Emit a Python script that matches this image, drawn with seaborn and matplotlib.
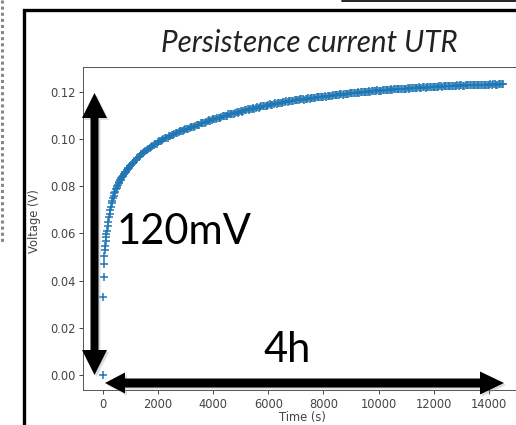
import matplotlib
matplotlib.use("Agg")
import matplotlib.pyplot as plt
import seaborn as sns
import pandas as pd
from matplotlib.patches import Polygon, Rectangle
from matplotlib.lines import Line2D

# Charging curve: first minutes sampled finely, then every 50 s
early_time = [0, 15, 30, 45, 60, 75, 90, 105, 120, 135] + list(range(150, 1000, 25))
early_voltage = [0.0000, 0.0332, 0.0417, 0.0469, 0.0506, 0.0530, 0.0549, 0.0566,
                 0.0584, 0.0599,
                 0.0612, 0.0633, 0.0649, 0.0669, 0.0684, 0.0701, 0.0712, 0.0728,
                 0.0738, 0.0752, 0.0760, 0.0772, 0.0778, 0.0789, 0.0795, 0.0803,
                 0.0807, 0.0815, 0.0818, 0.0825, 0.0827, 0.0835, 0.0838, 0.0843,
                 0.0845, 0.0853, 0.0856, 0.0861, 0.0862, 0.0869, 0.0872, 0.0877,
                 0.0878, 0.0885]

late_time = list(range(1000, 14600, 100))
late_voltage = [
    0.0888, 0.0899, 0.0913, 0.0923, 0.0936, 0.0944, 0.0955, 0.0962, 0.0972, 0.0978,
    0.0987, 0.0992, 0.1000, 0.1004, 0.1012, 0.1016, 0.1023, 0.1026, 0.1033, 0.1036,
    0.1042, 0.1044, 0.1051, 0.1053, 0.1060, 0.1062, 0.1069, 0.1070, 0.1077, 0.1078,
    0.1085, 0.1086, 0.1092, 0.1094, 0.1099, 0.1100, 0.1105, 0.1107, 0.1112, 0.1113,
    0.1118, 0.1119, 0.1124, 0.1125, 0.1130, 0.1130, 0.1135, 0.1136, 0.1141, 0.1141,
    0.1146, 0.1146, 0.1150, 0.1150, 0.1154, 0.1154, 0.1158, 0.1158, 0.1162, 0.1161,
    0.1165, 0.1165, 0.1169, 0.1168, 0.1172, 0.1172, 0.1175, 0.1175, 0.1178, 0.1178,
    0.1181, 0.1181, 0.1184, 0.1183, 0.1187, 0.1186, 0.1190, 0.1189, 0.1192, 0.1192,
    0.1195, 0.1194, 0.1197, 0.1197, 0.1200, 0.1199, 0.1202, 0.1201, 0.1204, 0.1204,
    0.1206, 0.1205, 0.1208, 0.1208, 0.1210, 0.1209, 0.1212, 0.1211, 0.1214, 0.1213,
    0.1215, 0.1215, 0.1217, 0.1216, 0.1218, 0.1218, 0.1220, 0.1219, 0.1221, 0.1221,
    0.1222, 0.1222, 0.1224, 0.1223, 0.1225, 0.1224, 0.1226, 0.1225, 0.1227, 0.1226,
    0.1228, 0.1227, 0.1229, 0.1228, 0.1230, 0.1229, 0.1231, 0.1230, 0.1231, 0.1231,
    0.1232, 0.1231, 0.1233, 0.1232, 0.1233, 0.1233,
]

# readings taken half-way between the ones above
mid_time = list(range(1050, 14500, 100))
mid_voltage = [
    0.0896, 0.0905, 0.0919, 0.0928, 0.0942, 0.0948, 0.0960, 0.0966, 0.0977, 0.0981,
    0.0991, 0.0995, 0.1003, 0.1007, 0.1015, 0.1019, 0.1026, 0.1029, 0.1036, 0.1038,
    0.1044, 0.1049, 0.1050, 0.1058, 0.1060, 0.1067, 0.1068, 0.1075, 0.1080, 0.1080,
    0.1087, 0.1091, 0.1092, 0.1098, 0.1099, 0.1105, 0.1108, 0.1108, 0.1114, 0.1117,
    0.1117, 0.1123, 0.1126, 0.1126, 0.1132, 0.1134, 0.1134, 0.1140, 0.1142, 0.1142,
    0.1148, 0.1147, 0.1152, 0.1154, 0.1154, 0.1158, 0.1161, 0.1160, 0.1164, 0.1165,
    0.1165, 0.1169, 0.1171, 0.1170, 0.1174, 0.1175, 0.1175, 0.1178, 0.1180, 0.1179,
    0.1183, 0.1184, 0.1184, 0.1187, 0.1188, 0.1187, 0.1191, 0.1192, 0.1191, 0.1195,
    0.1196, 0.1195, 0.1199, 0.1200, 0.1199, 0.1202, 0.1203, 0.1203, 0.1206, 0.1207,
    0.1205, 0.1209, 0.1210, 0.1209, 0.1212, 0.1213, 0.1212, 0.1215, 0.1215, 0.1214,
    0.1217, 0.1217, 0.1216, 0.1219, 0.1220, 0.1219, 0.1221, 0.1222, 0.1221, 0.1223,
    0.1223, 0.1222, 0.1225, 0.1225, 0.1224, 0.1226, 0.1227, 0.1226, 0.1228, 0.1228,
    0.1227, 0.1229, 0.1230, 0.1229, 0.1231, 0.1231, 0.1230, 0.1232, 0.1232, 0.1231,
    0.1233, 0.1233, 0.1232, 0.1234, 0.1233,
]
assert len(early_time) == len(early_voltage)
assert len(late_time) == len(late_voltage)
assert len(mid_time) == len(mid_voltage)

x_ticks = [0, 2000, 4000, 6000, 8000, 10000, 12000, 14000]
y_ticks = [0.00, 0.02, 0.04, 0.06, 0.08, 0.10, 0.12]
title = "Persistence current UTR"
voltage_span = "120mV"
time_span = "4h"

sns.set_style("ticks")
plt.rcParams["font.family"] = ["DejaVu Sans"]

W, H = 516, 425
fig = plt.figure(figsize=(W / 100, H / 100), dpi=100)
fig.patch.set_facecolor("white")


def fx(x):
    return x / W


def fy(y):
    return 1 - y / H


# plot area (the right edge runs past the slide crop)
ax_l, ax_r, ax_t, ax_b = 83.3, 522.2, 67.3, 390.0
ax = fig.add_axes([fx(ax_l), fy(ax_b), (ax_r - ax_l) / W, (ax_b - ax_t) / H])

df = pd.DataFrame({"Time (s)": early_time + late_time + mid_time,
                   "Voltage (V)": early_voltage + late_voltage + mid_voltage})
df = df.sort_values("Time (s)")
sns.scatterplot(data=df, x="Time (s)", y="Voltage (V)", marker="+", s=26,
                linewidth=1.1, color="#1f77b4", ax=ax, legend=False)

ax.set_xlim(-703, 15200)
ax.set_ylim(-0.0064, 0.1305)
ax.set_xticks(x_ticks)
ax.set_yticks(y_ticks)
ax.yaxis.set_major_formatter("{x:.2f}")
ax.tick_params(labelsize=8.3, length=3, width=0.7, pad=2.5, colors="#444")
for sp in ax.spines.values():
    sp.set_linewidth(0.7)
    sp.set_color("#555")
ax.set_xlabel("Time (s)", fontsize=8.3, color="#444")
ax.set_ylabel("Voltage (V)", fontsize=8.3, color="#444")
ax.xaxis.set_label_coords((302 - ax_l) / (ax_r - ax_l), (ax_b - 411) / (ax_b - ax_t))
ax.yaxis.set_label_coords((41 - ax_l) / (ax_r - ax_l), (ax_b - 221) / (ax_b - ax_t))

# slide frame
fig.add_artist(Rectangle((fx(23.5), fy(H + 20)), fx(W + 20) - fx(23.5), fy(10) - fy(H + 20),
                         transform=fig.transFigure, fill=False, edgecolor="black",
                         linewidth=2.4, zorder=5))
fig.add_artist(Line2D([fx(342), fx(W)], [fy(0.8), fy(0.8)], transform=fig.transFigure,
                      color="black", linewidth=1.2))
fig.add_artist(Line2D([fx(1.5), fx(1.5)], [fy(0), fy(242)], transform=fig.transFigure,
                      color="#888", linewidth=2.2, dashes=(1, 1)))

# double-headed span arrows
v_arrow = [(94.5, 93), (107, 118), (98.5, 118), (98.5, 350), (107, 350), (94.5, 375),
           (82, 350), (90.5, 350), (90.5, 118), (82, 118)]
h_arrow = [(105, 383), (125, 372.5), (125, 378.5), (480, 378.5), (480, 371.5), (504, 383),
           (480, 394.5), (480, 387.5), (125, 387.5), (125, 393.5)]
for pts in (v_arrow, h_arrow):
    shadow = [(fx(x + 2), fy(y + 2)) for x, y in pts]
    fig.add_artist(Polygon(shadow, closed=True, transform=fig.transFigure,
                           facecolor="#999", edgecolor="none", alpha=0.35, zorder=6))
    fig.add_artist(Polygon([(fx(x), fy(y)) for x, y in pts], closed=True,
                           transform=fig.transFigure, facecolor="black",
                           edgecolor="none", zorder=7))

fig.text(fx(309), fy(52), title, ha="center", va="baseline", fontsize=21.3,
         fontstyle="italic", family="Lato", color="#222")
fig.text(fx(117), fy(244), voltage_span, ha="left", va="baseline", fontsize=30,
         family="Lato", color="black", zorder=8)
fig.text(fx(263), fy(362), time_span, ha="left", va="baseline", fontsize=30,
         family="Lato", color="black", zorder=8)

fig.savefig("out.png", dpi=100, facecolor="white")
